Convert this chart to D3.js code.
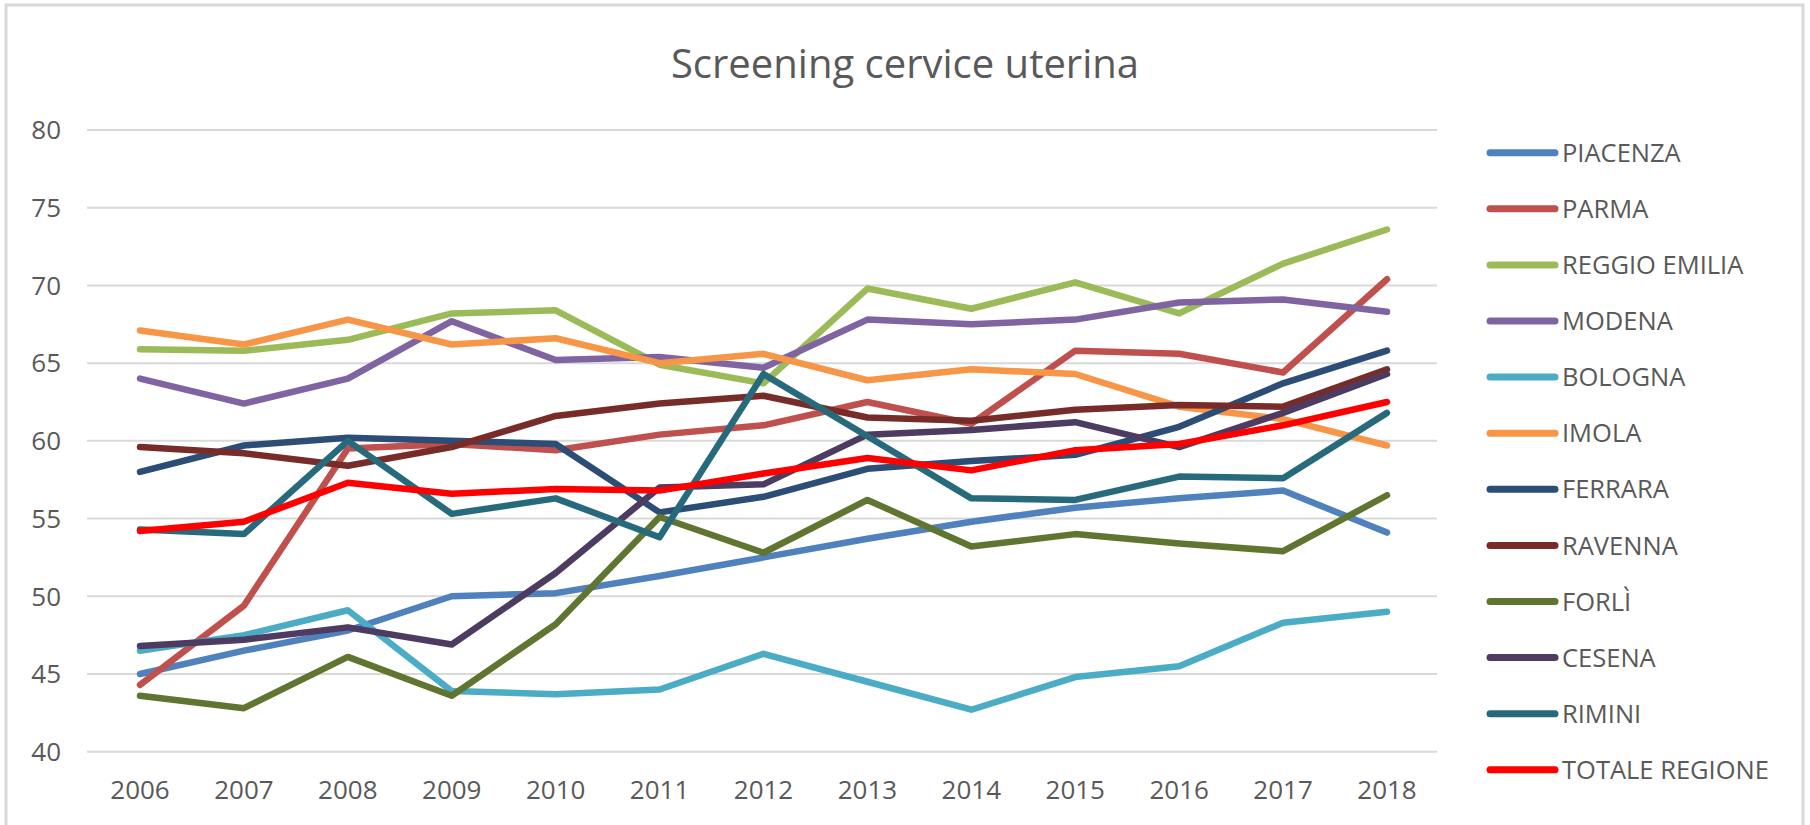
<!DOCTYPE html>
<html>
<head>
<meta charset="utf-8">
<script src="https://cdn.jsdelivr.net/npm/d3@7"></script>
<style>
  body { margin: 0; background: #fff; }
  text { font-family: "Open Sans", sans-serif; fill: #595959; }
</style>
</head>
<body>
<div id="chart"></div>
<script>
// Screening cervice uterina: one line per area, 2006-2018

var years = ["2006", "2007", "2008", "2009", "2010", "2011", "2012", "2013", "2014", "2015", "2016", "2017", "2018"];
var yTicks = [40, 45, 50, 55, 60, 65, 70, 75, 80];

var piacenza     = [45.0, 46.5, 47.8, 50.0, 50.2, 51.3, 52.5, 53.7, 54.8, 55.7, 56.3, 56.8, 54.1];
var parma        = [44.3, 49.4, 59.5, 59.8, 59.4, 60.4, 61.0, 62.5, 61.1, 65.8, 65.6, 64.4, 70.4];
var reggioEmilia = [65.9, 65.8, 66.5, 68.2, 68.4, 64.9, 63.7, 69.8, 68.5, 70.2, 68.2, 71.4, 73.6];
var modena       = [64.0, 62.4, 64.0, 67.7, 65.2, 65.4, 64.7, 67.8, 67.5, 67.8, 68.9, 69.1, 68.3];
var bologna      = [46.5, 47.5, 49.1, 43.9, 43.7, 44.0, 46.3, 44.5, 42.7, 44.8, 45.5, 48.3, 49.0];
var imola        = [67.1, 66.2, 67.8, 66.2, 66.6, 65.0, 65.6, 63.9, 64.6, 64.3, 62.2, 61.4, 59.7];
var ferrara      = [58.0, 59.7, 60.2, 60.0, 59.8, 55.4, 56.4, 58.2, 58.7, 59.1, 60.9, 63.7, 65.8];
var ravenna      = [59.6, 59.2, 58.4, 59.6, 61.6, 62.4, 62.9, 61.5, 61.3, 62.0, 62.3, 62.2, 64.6];
var forli        = [43.6, 42.8, 46.1, 43.6, 48.2, 55.1, 52.8, 56.2, 53.2, 54.0, 53.4, 52.9, 56.5];
var cesena       = [46.8, 47.2, 48.0, 46.9, 51.5, 57.0, 57.2, 60.4, 60.7, 61.2, 59.6, 61.8, 64.3];
var rimini       = [54.3, 54.0, 60.0, 55.3, 56.3, 53.8, 64.3, 60.3, 56.3, 56.2, 57.7, 57.6, 61.8];
var totale       = [54.2, 54.8, 57.3, 56.6, 56.9, 56.8, 57.9, 58.9, 58.1, 59.4, 59.8, 61.0, 62.5];

var names  = ["PIACENZA", "PARMA", "REGGIO EMILIA", "MODENA", "BOLOGNA", "IMOLA",
              "FERRARA", "RAVENNA", "FORLÌ", "CESENA", "RIMINI", "TOTALE REGIONE"];
var values = [piacenza, parma, reggioEmilia, modena, bologna, imola,
              ferrara, ravenna, forli, cesena, rimini, totale];
var colors = ["#4f81bd", "#c0504d", "#9bbb59", "#8064a2", "#4bacc6", "#f79646",
              "#2c4d75", "#772c2a", "#5f7530", "#4d3b62", "#276a7c", "#ff0000"];

var series = names.map(function(n, i) {
  return { name: n, color: colors[i], values: values[i] };
});

(function() {
  var width = 1810, height = 825;

  var svg = d3.select("#chart")
    .append("svg")
    .attr("width", width)
    .attr("height", height);

  // chart frame
  svg.append("path")
    .attr("d", "M6,825 V5 H1803 V825")
    .attr("fill", "none")
    .attr("stroke", "#d9d9d9")
    .attr("stroke-width", 3);

  var xScale = d3.scalePoint()
    .domain(years)
    .range([140, 1387]);

  var yScale = d3.scaleLinear()
    .domain([40, 80])
    .range([751.7, 130]);

  // grid
  svg.selectAll(".grid")
    .data(yTicks)
    .enter().append("line")
    .attr("x1", 87)
    .attr("x2", 1437)
    .attr("y1", function(d) { return yScale(d); })
    .attr("y2", function(d) { return yScale(d); })
    .attr("stroke", "#d9d9d9")
    .attr("stroke-width", 2);

  // y labels
  svg.selectAll(".ylab")
    .data(yTicks)
    .enter().append("text")
    .attr("x", 61)
    .attr("y", function(d) { return yScale(d); })
    .attr("dy", "0.36em")
    .attr("text-anchor", "end")
    .attr("font-size", 26)
    .text(function(d) { return d; });

  // x labels
  svg.selectAll(".xlab")
    .data(years)
    .enter().append("text")
    .attr("x", function(d) { return xScale(d); })
    .attr("y", 799)
    .attr("text-anchor", "middle")
    .attr("font-size", 26)
    .text(function(d) { return d; });

  // title
  svg.append("text")
    .attr("x", 905)
    .attr("y", 78)
    .attr("text-anchor", "middle")
    .attr("font-size", 40)
    .text("Screening cervice uterina");

  var line = d3.line()
    .x(function(d, i) { return xScale(years[i]); })
    .y(function(d) { return yScale(d); });

  svg.selectAll(".series")
    .data(series)
    .enter().append("path")
    .attr("d", function(d) { return line(d.values); })
    .attr("fill", "none")
    .attr("stroke", function(d) { return d.color; })
    .attr("stroke-width", 6.5)
    .attr("stroke-linejoin", "round")
    .attr("stroke-linecap", "round");

  // legend
  var legend = svg.selectAll(".legend")
    .data(series)
    .enter().append("g")
    .attr("transform", function(d, i) { return "translate(0," + (152.7 + i * 56.1) + ")"; });

  legend.append("line")
    .attr("x1", 1490)
    .attr("x2", 1555)
    .attr("stroke", function(d) { return d.color; })
    .attr("stroke-width", 7)
    .attr("stroke-linecap", "round");

  legend.append("text")
    .attr("x", 1562)
    .attr("dy", "0.36em")
    .attr("font-size", 25.5)
    .text(function(d) { return d.name; });
})();
</script>
</body>
</html>
